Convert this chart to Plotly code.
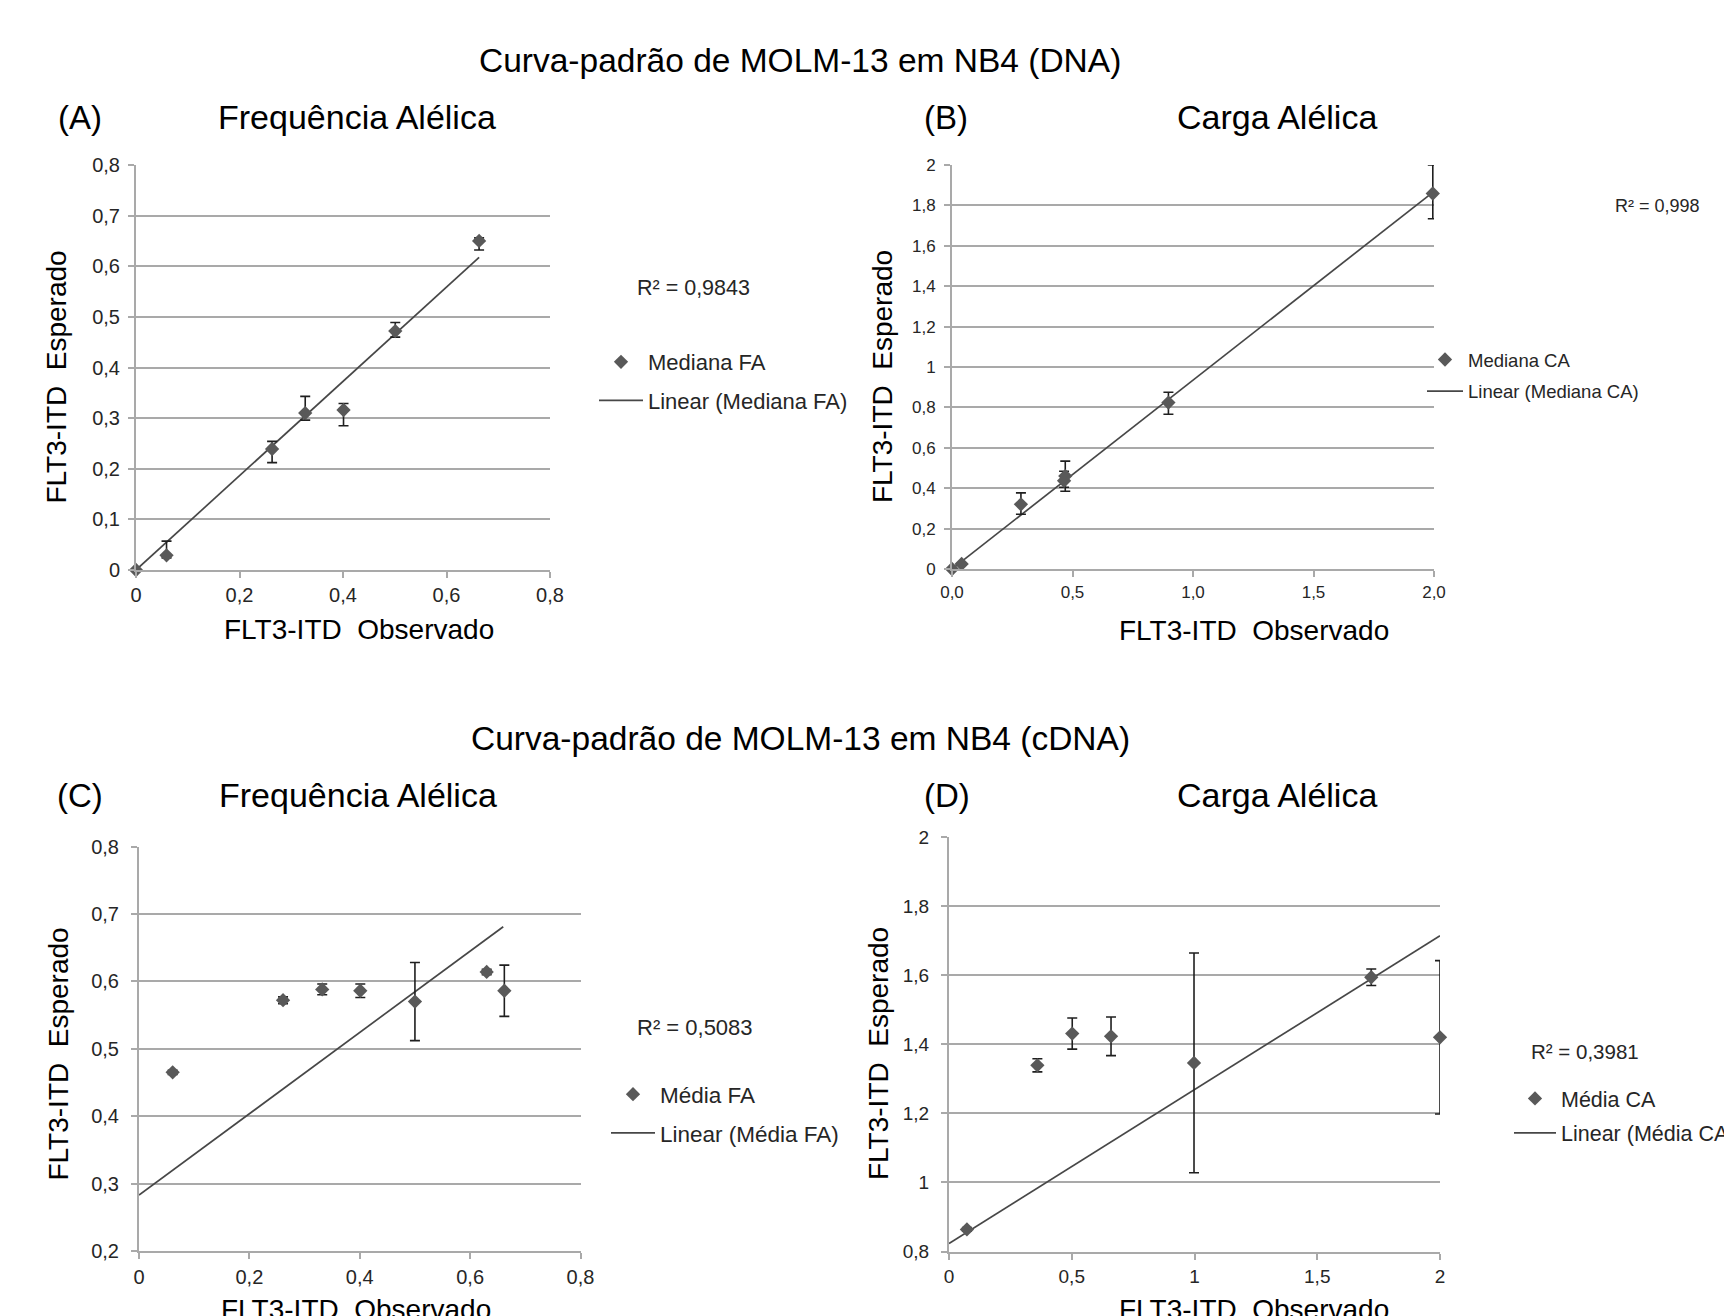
import numpy as np
import plotly.graph_objects as go

W, H = 1724, 1316
FONT = "Liberation Sans, Arial, Helvetica, sans-serif"

# ---------------- data ----------------
# (A) DNA - Frequência Alélica (Mediana FA)
a_obs = [0.0, 0.059, 0.263, 0.327, 0.401, 0.501, 0.663]
a_exp = [0.0, 0.029, 0.239, 0.310, 0.316, 0.472, 0.650]
a_err_up = [0.0, 0.028, 0.015, 0.033, 0.013, 0.017, 0.006]
a_err_dn = [0.0, 0.005, 0.027, 0.014, 0.031, 0.012, 0.018]
a_r2 = "R² = 0,9843"

# (B) DNA - Carga Alélica (Mediana CA)
b_obs = [0.0, 0.040, 0.286, 0.465, 0.470, 0.898, 1.995]
b_exp = [0.0, 0.025, 0.320, 0.437, 0.460, 0.824, 1.859]
b_err_up = [0.0, 0.005, 0.057, 0.047, 0.074, 0.051, 0.141]
b_err_dn = [0.0, 0.005, 0.049, 0.032, 0.075, 0.058, 0.125]
b_r2 = "R² = 0,998"

# (C) cDNA - Frequência Alélica (Média FA)
c_obs = [0.061, 0.261, 0.332, 0.401, 0.500, 0.630, 0.662]
c_exp = [0.465, 0.572, 0.588, 0.586, 0.570, 0.614, 0.586]
c_err = [0.003, 0.005, 0.008, 0.010, 0.058, 0.004, 0.038]
c_trend_x = [0.0, 0.66]
c_trend_y = [0.283, 0.681]
c_r2 = "R² = 0,5083"

# (D) cDNA - Carga Alélica (Média CA)
d_obs = [0.073, 0.360, 0.502, 0.660, 0.998, 1.720, 2.000]
d_exp = [0.864, 1.339, 1.431, 1.423, 1.346, 1.594, 1.420]
d_err = [0.005, 0.019, 0.045, 0.056, 0.318, 0.024, 0.222]
d_trend_x = [0.0, 2.0]
d_trend_y = [0.823, 1.714]
d_r2 = "R² = 0,3981"

# tick values / labels
fa_x_vals = [0, 0.2, 0.4, 0.6, 0.8]
fa_x_text = ["0", "0,2", "0,4", "0,6", "0,8"]
a_y_vals = [0, 0.1, 0.2, 0.3, 0.4, 0.5, 0.6, 0.7, 0.8]
a_y_text = ["0", "0,1", "0,2", "0,3", "0,4", "0,5", "0,6", "0,7", "0,8"]
b_y_vals = [0, 0.2, 0.4, 0.6, 0.8, 1.0, 1.2, 1.4, 1.6, 1.8, 2.0]
b_y_text = ["0", "0,2", "0,4", "0,6", "0,8", "1", "1,2", "1,4", "1,6", "1,8", "2"]
ca_x_vals = [0, 0.5, 1.0, 1.5, 2.0]
b_x_text = ["0,0", "0,5", "1,0", "1,5", "2,0"]
c_y_vals = [0.2, 0.3, 0.4, 0.5, 0.6, 0.7, 0.8]
c_y_text = ["0,2", "0,3", "0,4", "0,5", "0,6", "0,7", "0,8"]
d_y_vals = [0.8, 1.0, 1.2, 1.4, 1.6, 1.8, 2.0]
d_y_text = ["0,8", "1", "1,2", "1,4", "1,6", "1,8", "2"]
d_x_text = ["0", "0,5", "1", "1,5", "2"]


def origin_fit(x, y):
    x = np.asarray(x); y = np.asarray(y)
    k = float((x * y).sum() / (x * x).sum())
    xs = [0.0, float(x.max())]
    return xs, [k * v for v in xs]


a_trend_x, a_trend_y = origin_fit(a_obs, a_exp)
b_trend_x, b_trend_y = origin_fit(b_obs, b_exp)

# ---------------- styling ----------------
MARK = "#595959"
ERR = "#1f1f1f"
LINE = "#474747"
GRID = "#a9a9a9"
TICKC = "#262626"

# panel boxes in pixels: left, right, top, bottom
boxes = {
    "A": (136, 550, 165, 570),
    "B": (952, 1434, 165, 569),
    "C": (139, 580.5, 846.5, 1251),
    "D": (949, 1440, 837, 1251.5),
}


def px(x):
    return x / W


def py(y):
    return 1 - y / H


fig = go.Figure()

panels = [
    ("A", "", a_obs, a_exp, a_err_up, a_err_dn, a_trend_x, a_trend_y, "Mediana FA", "legend"),
    ("B", "2", b_obs, b_exp, b_err_up, b_err_dn, b_trend_x, b_trend_y, "Mediana CA", "legend2"),
    ("C", "3", c_obs, c_exp, c_err, c_err, c_trend_x, c_trend_y, "Média FA", "legend3"),
    ("D", "4", d_obs, d_exp, d_err, d_err, d_trend_x, d_trend_y, "Média CA", "legend4"),
]

for key, s, xo, ye, eu, ed, tx, ty, name, leg in panels:
    fig.add_trace(go.Scatter(
        x=tx, y=ty, mode="lines", name="Linear (" + name + ")",
        xaxis="x" + s, yaxis="y" + s, legend=leg, legendgroup=key + "line",
        legendrank=2, line=dict(color=LINE, width=1.7),
    ))
    fig.add_trace(go.Scatter(
        x=xo, y=ye, mode="markers", name=name,
        xaxis="x" + s, yaxis="y" + s, legend=leg, legendgroup=key + "pts",
        legendrank=1,
        marker=dict(symbol="diamond", size=11, color=MARK),
        error_y=dict(type="data", symmetric=False, array=eu, arrayminus=ed,
                     color=ERR, thickness=1.6, width=5),
        cliponaxis=False,
    ))


def xax(key, s, rng, vals, text, size, standoff):
    l, r, t, b = boxes[key]
    return dict(
        domain=[px(l), px(r)], range=rng, anchor="y" + s, automargin=False,
        tickmode="array", tickvals=vals, ticktext=text,
        showgrid=False, zeroline=False, showline=True, linecolor=GRID, linewidth=2,
        ticks="outside", ticklen=6, tickcolor=GRID, tickwidth=2,
        tickfont=dict(family=FONT, size=size, color=TICKC),
        ticklabelstandoff=standoff, fixedrange=True,
    )


def yax(key, s, rng, vals, text, size, standoff):
    l, r, t, b = boxes[key]
    return dict(
        domain=[py(b), py(t)], range=rng, anchor="x" + s, automargin=False,
        tickmode="array", tickvals=vals, ticktext=text,
        showgrid=True, gridcolor=GRID, gridwidth=2,
        zeroline=False, showline=True, linecolor=GRID, linewidth=2,
        ticks="outside", ticklen=6, tickcolor=GRID, tickwidth=2,
        tickfont=dict(family=FONT, size=size, color=TICKC),
        ticklabelstandoff=standoff, fixedrange=True,
    )


layout = dict(
    template="none",
    width=W, height=H, margin=dict(l=0, r=0, t=0, b=0, autoexpand=False),
    paper_bgcolor="white", plot_bgcolor="white",
    font=dict(family=FONT, color="#000000"),
    xaxis=xax("A", "", [0, 0.8], fa_x_vals, fa_x_text, 20, 0),
    yaxis=yax("A", "", [0, 0.8], a_y_vals, a_y_text, 20, 4),
    xaxis2=xax("B", "2", [0, 2], ca_x_vals, b_x_text, 17, 1),
    yaxis2=yax("B", "2", [0, 2], b_y_vals, b_y_text, 17, 5),
    xaxis3=xax("C", "3", [0, 0.8], fa_x_vals, fa_x_text, 20, 1),
    yaxis3=yax("C", "3", [0.2, 0.8], c_y_vals, c_y_text, 20, 8),
    xaxis4=xax("D", "4", [0, 2], ca_x_vals, d_x_text, 19, 1),
    yaxis4=yax("D", "4", [0.8, 2], d_y_vals, d_y_text, 19, 8),
)


def legend_cfg(x, y, size, gap, iw):
    return dict(x=px(x), y=py(y), xref="container", yref="container",
                xanchor="left", yanchor="top",
                bgcolor="rgba(0,0,0,0)", borderwidth=0,
                font=dict(family=FONT, size=size, color="#262626"),
                itemwidth=iw, tracegroupgap=gap, traceorder="grouped")


layout["legend"] = legend_cfg(594, 341, 22, 7, 44)
layout["legend2"] = legend_cfg(1422, 341, 18.5, 4.5, 36)
layout["legend3"] = legend_cfg(606, 1073, 22.5, 6.5, 44)
layout["legend4"] = legend_cfg(1509, 1078, 21.5, 3.5, 42)
fig.update_layout(**layout)

ann = []


def text(x, y, t, size, anchor="center", angle=0, color="#000000"):
    ann.append(dict(x=px(x), y=py(y), xref="paper", yref="paper", text=t,
                    showarrow=False, xanchor=anchor, yanchor="middle",
                    textangle=angle, font=dict(family=FONT, size=size, color=color)))


YT = "FLT3-ITD\u00a0 Esperado"
XT = "FLT3-ITD\u00a0 Observado"

text(800, 60, "Curva-padrão de MOLM-13 em NB4 (DNA)", 33.5)
text(800, 738, "Curva-padrão de MOLM-13 em NB4 (cDNA)", 33.5)

text(79.5, 117, "(A)", 33)
text(357, 117, "Frequência Alélica", 34)
text(946, 117, "(B)", 33)
text(1277, 117, "Carga Alélica", 34)
text(79.5, 795, "(C)", 33)
text(358, 795, "Frequência Alélica", 34)
text(947, 795, "(D)", 33)
text(1277, 795, "Carga Alélica", 34)

text(55.5, 377, YT, 28, angle=-90)
text(359, 629, XT, 28)
text(882, 377, YT, 28, angle=-90)
text(1254, 630, XT, 28)
text(57.5, 1054, YT, 28, angle=-90)
text(356, 1309, XT, 28)
text(878, 1054, YT, 28, angle=-90)
text(1254, 1309, XT, 28)

text(635, 288, a_r2, 21.5, anchor="left", color="#262626")
text(1613, 206, b_r2, 18, anchor="left", color="#262626")
text(635, 1027, c_r2, 22, anchor="left", color="#262626")
text(1529, 1051, d_r2, 20.5, anchor="left", color="#262626")

fig.update_layout(annotations=ann, showlegend=True)
fig.write_html("out.html", config={"displayModeBar": False},
               post_script="document.body.style.margin='0';")
